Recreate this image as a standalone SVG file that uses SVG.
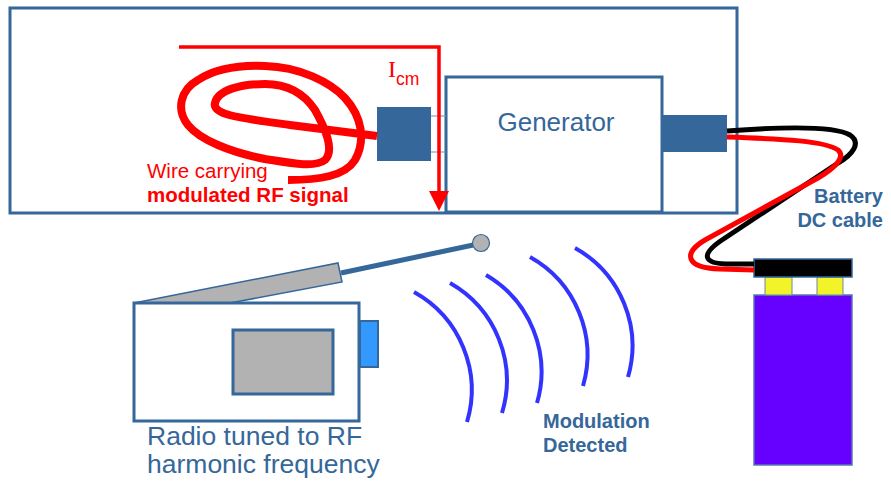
<svg xmlns="http://www.w3.org/2000/svg" width="891" height="486" viewBox="0 0 891 486">
  <style>
    .box { fill: #ffffff; stroke: #35679A; stroke-width: 3; }
    .block { fill: #35679A; stroke: none; }
    .lbl { font-family: "Liberation Sans", Arial, sans-serif; fill: #35679A; }
    .red { font-family: "Liberation Sans", Arial, sans-serif; fill: #FF0000; }
    .bold { font-weight: bold; }
    .wave { fill: none; stroke: #3333FF; stroke-width: 4; }
    .wire { fill: none; stroke-width: 5; stroke-linecap: butt; stroke-linejoin: round; }
  </style>

  <!-- enclosure -->
  <g id="enclosure">
    <rect class="box" x="10" y="8" width="727" height="205"/>
  </g>

  <!-- generator with its DC connector -->
  <g id="generator">
    <rect class="box" x="446" y="77" width="216" height="135"/>
    <text class="lbl" x="556" y="131" font-size="26" text-anchor="middle">Generator</text>
    <rect class="block" x="662" y="115" width="65" height="37"/>
  </g>

  <!-- RF output connector -->
  <g id="rf-connector">
    <line x1="431" y1="116" x2="446" y2="116" stroke="#6E8FB5" stroke-width="1"/>
    <line x1="431" y1="152" x2="446" y2="152" stroke="#6E8FB5" stroke-width="1"/>
    <rect class="block" x="377" y="107" width="54" height="54"/>
  </g>

  <!-- coiled RF wire -->
  <g id="rf-wire">
    <path d="M377,136 L290,125 C240,118 212,115 215,103 C218,90 240,84 265,84 C290,84 305,95 315,110 C325,128 335,150 325,160 C315,168 290,163 265,159 C230,152 200,140 188,125 C176,110 180,90 198,80 C215,69 240,65 265,66 C300,67 330,82 345,98 C362,117 366,140 355,160 C345,176 320,180 288,180" fill="none" stroke="#FF0000" stroke-width="8" stroke-linejoin="round"/>
    <text class="red" x="147" y="178" font-size="20.5">Wire carrying</text>
    <text class="red bold" x="147" y="202" font-size="20.5">modulated RF signal</text>
  </g>

  <!-- battery -->
  <g id="battery">
    <rect x="754" y="295" width="98" height="170" fill="#6600FF" stroke="#5A78B0" stroke-width="1.5"/>
    <rect x="765" y="277" width="27" height="18" fill="#F3F32A" stroke="#6A88A8" stroke-width="1"/>
    <rect x="817" y="277" width="26" height="18" fill="#F3F32A" stroke="#6A88A8" stroke-width="1"/>
    <rect x="754" y="259" width="98" height="18" fill="#000000" stroke="#35679A" stroke-width="1.5"/>
    <text class="lbl bold" x="883" y="203" font-size="20" text-anchor="end">Battery</text>
    <text class="lbl bold" x="883" y="227" font-size="20" text-anchor="end">DC cable</text>
  </g>

  <!-- radio receiver -->
  <g id="radio">
    <polygon points="134,303 338,263 342,282 230,303" fill="#B2B2B2" stroke="#35679A" stroke-width="1.5"/>
    <line x1="341" y1="273" x2="478" y2="244" stroke="#35679A" stroke-width="5"/>
    <circle cx="481" cy="243" r="8.5" fill="#B2B2B2" stroke="#35679A" stroke-width="1.2"/>
    <rect class="box" x="134" y="303" width="225" height="118"/>
    <rect x="233" y="330" width="100" height="64" fill="#B2B2B2" stroke="#35679A" stroke-width="3"/>
    <rect x="360" y="321" width="18" height="46" fill="#3399FF" stroke="#35679A" stroke-width="2"/>
    <text class="lbl" x="147" y="445" font-size="26.5">Radio tuned to RF</text>
    <text class="lbl" x="147" y="473" font-size="26.5">harmonic frequency</text>
  </g>

  <!-- radiated field -->
  <g id="waves">
    <path class="wave" d="M414,292 A112,112 0 0 1 467,422"/>
    <path class="wave" d="M450,283 A112,112 0 0 1 502,413"/>
    <path class="wave" d="M486,275 A112,112 0 0 1 537,403"/>
    <path class="wave" d="M530,257 A112,112 0 0 1 583,386"/>
    <path class="wave" d="M575,248 A112,112 0 0 1 628,377"/>
    <text class="lbl bold" x="543" y="428" font-size="20">Modulation</text>
    <text class="lbl bold" x="543" y="452" font-size="20">Detected</text>
  </g>

  <!-- connectors: DC cable and common-mode current path -->
  <g id="connectors">
    <path class="wire" stroke="#000000" d="M727,131 C780,127 835,126 850,135 C862,143 852,155 838,163 L725,238 C700,254 700,265 735,264 L754,264"/>
    <path class="wire" stroke="#FF0000" d="M727,137 C785,139 825,141 838,150 C846,157 835,168 818,178 L705,240 C683,253 685,268 720,269 L754,270"/>
    <polyline points="179,47 439,47 439,194" fill="none" stroke="#FF0000" stroke-width="3.5"/>
    <polygon points="429,191 449,191 439,211" fill="#FF0000"/>
    <text x="388" y="77" font-family="'Liberation Serif', 'Times New Roman', serif" font-size="24" fill="#FF0000">I</text>
    <text class="red" x="396" y="85" font-size="17.5">cm</text>
  </g>
</svg>
